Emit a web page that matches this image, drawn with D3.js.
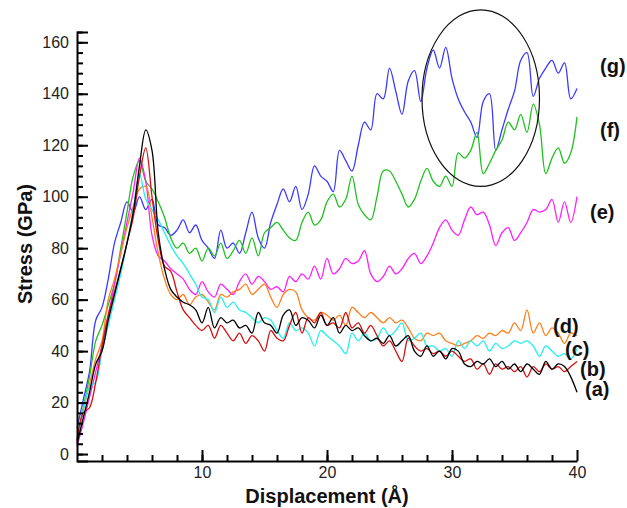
<!DOCTYPE html>
<html>
<head>
<meta charset="utf-8">
<script src="https://cdn.jsdelivr.net/npm/d3@7"></script>
<style>
  body { margin: 0; background: #fff; }
  text { font-family: "Liberation Sans", Arial, sans-serif; }
</style>
</head>
<body>
<script>
// displacement grid (Å), one value every 0.5
var disp = d3.range(0, 40.5, 0.5);

// stress values (GPa)
var seriesA = [4,14,24,35,40,52,62,72,82,94,
  112,126,118,86,72,64,61,59,58,56,
  51,57,49,53,51,52,49,50,47,55,
  51,50,47,54,56,50,53,52,49,54,
  50,53,47,50,48,49,46,44,45,43,
  46,42,44,46,40,38,42,38,40,37,
  41,40,35,34,36,35,37,34,36,33,
  35,32,35,33,31,36,33,35,34,30, 24];
var seriesB = [5,16,18,28,42,54,63,72,82,92,
  108,119,100,83,73,71,63,56,53,50,
  48,50,45,50,47,44,47,43,46,44,
  40,48,45,44,50,55,47,53,51,55,
  50,51,49,55,49,51,47,50,46,42,
  44,40,36,45,42,40,41,39,40,38,
  40,38,36,37,33,35,31,35,33,34,
  32,34,30,34,32,35,33,34,32,34, 36];
var seriesC = [6,17,26,28,40,50,60,70,82,95,
  109,99,95,91,86,81,77,74,70,66,
  61,60,55,61,57,59,56,55,53,51,
  53,52,48,45,51,48,49,47,42,48,
  46,44,42,39,47,44,47,44,45,49,
  46,48,51,44,45,47,42,42,40,41,
  38,44,41,44,42,44,40,43,41,42,
  44,43,44,42,38,42,40,38,39,37, 41];
var seriesD = [6,17,27,37,44,60,68,78,88,96,
  103,104,92,78,68,62,60,62,58,61,
  62,59,56,62,61,63,64,66,62,64,
  66,61,57,62,64,63,56,53,52,55,
  54,52,54,50,57,55,53,55,53,51,
  53,51,52,49,45,44,47,46,47,44,
  43,42,43,44,46,45,47,46,48,47,
  51,48,56,47,51,46,49,47,43,47, 46];
var seriesE = [3,12,22,32,42,54,66,78,90,102,
  115,106,85,77,75,72,70,68,64,62,
  67,63,61,66,64,62,67,70,66,69,
  67,64,65,63,69,67,70,68,73,68,
  76,70,72,76,74,75,79,70,67,69,
  73,70,72,76,78,74,77,82,88,91,
  87,85,91,96,93,94,89,81,86,88,
  83,86,90,95,94,95,99,90,98,90, 100];
var seriesF = [5,18,30,44,50,58,66,80,94,108,
  114,106,103,98,92,84,80,82,78,80,
  75,80,77,82,76,79,83,78,84,77,
  86,88,90,87,84,83,90,94,89,91,
  98,101,96,99,108,97,93,91,100,110,
  110,106,101,96,99,106,111,106,104,108,
  104,117,115,118,125,109,113,118,122,129,
  126,132,125,136,128,109,115,119,113,117, 131];
var seriesG = [10,21,32,52,57,68,82,90,98,94,
  100,95,99,89,88,85,87,91,86,89,
  83,80,76,87,80,82,78,86,94,84,
  80,90,97,103,98,104,95,101,112,108,
  106,102,118,114,110,120,129,126,140,138,
  150,141,132,145,149,137,150,157,150,158,
  146,138,133,129,123,137,140,118,126,134,
  141,153,156,139,146,150,153,148,152,138, 142];

var seriesNames = ["(g)", "(f)", "(e)", "(d)", "(c)", "(b)", "(a)"];
var seriesList = [seriesG, seriesF, seriesE, seriesD, seriesC, seriesB, seriesA];
var colors = ["#3a3aff", "#1ec21e", "#ff1eff", "#ff7f1a", "#22f0f0", "#d41010", "#000000"];

var xMajor = [10, 20, 30, 40];
var yMajor = [0, 20, 40, 60, 80, 100, 120, 140, 160];

var w = 627, h = 508;

var svg = d3.select("body").append("svg")
  .attr("width", w)
  .attr("height", h);

var x = d3.scaleLinear().domain([0, 40]).range([77, 577]);
var y = d3.scaleLinear().domain([-2.7, 164]).range([461, 32]);

// curves
var line = d3.line()
  .x(function(d, i) { return x(disp[i]); })
  .y(function(d) { return y(d); })
  .curve(d3.curveCatmullRom.alpha(0.5));

svg.selectAll("path.curve")
  .data(seriesList)
  .enter()
  .append("path")
  .attr("class", "curve")
  .attr("d", line)
  .attr("fill", "none")
  .attr("stroke", function(d, i) { return colors[i]; })
  .attr("stroke-width", 1.3)
  .attr("stroke-linejoin", "round");

// circled region
svg.append("ellipse")
  .attr("cx", x(32.3))
  .attr("cy", y(138.3))
  .attr("rx", x(37) - x(32.3))
  .attr("ry", y(104) - y(138.3))
  .attr("fill", "none")
  .attr("stroke", "#111")
  .attr("stroke-width", 1.2);

// y axis: minor ticks then major ticks with labels
svg.append("g")
  .attr("transform", "translate(" + x(0) + ",0)")
  .call(d3.axisLeft(y).tickValues(d3.range(0, 165, 4)).tickSizeInner(-6).tickSizeOuter(-11).tickFormat(""))
  .call(function(g) { g.selectAll("line, path").attr("stroke-width", 2); });

svg.append("g")
  .attr("transform", "translate(" + x(0) + ",0)")
  .call(d3.axisLeft(y).tickValues(yMajor).tickSizeInner(-11).tickSizeOuter(0).tickPadding(8))
  .call(function(g) {
    g.select(".domain").remove();
    g.selectAll("line").attr("stroke-width", 2);
    g.selectAll("text").attr("font-size", 16).attr("fill", "#222")
      .attr("font-family", "Liberation Sans, Arial, sans-serif");
  });

// x axis
svg.append("g")
  .attr("transform", "translate(0," + y(-2.7) + ")")
  .call(d3.axisBottom(x).tickValues(d3.range(2, 40, 2)).tickSizeInner(-6).tickSizeOuter(0).tickFormat(""))
  .call(function(g) { g.selectAll("line, path").attr("stroke-width", 2); });

svg.append("g")
  .attr("transform", "translate(0," + y(-2.7) + ")")
  .call(d3.axisBottom(x).tickValues(xMajor).tickSizeInner(-11).tickSizeOuter(0).tickPadding(6))
  .call(function(g) {
    g.select(".domain").remove();
    g.selectAll("line").attr("stroke-width", 2);
    g.selectAll("text").attr("font-size", 16).attr("fill", "#222")
      .attr("font-family", "Liberation Sans, Arial, sans-serif");
  });

// axis titles
svg.append("text")
  .attr("x", 327)
  .attr("y", 503)
  .attr("text-anchor", "middle")
  .attr("font-size", 20)
  .attr("font-weight", "bold")
  .attr("fill", "#111")
  .text("Displacement (Å)");

svg.append("text")
  .attr("transform", "translate(32,244) rotate(-90)")
  .attr("text-anchor", "middle")
  .attr("font-size", 20)
  .attr("font-weight", "bold")
  .attr("fill", "#111")
  .text("Stress (GPa)");

// series labels
var labelPos = [[600, 73], [600, 137], [590, 219], [553, 333], [565, 356], [580, 376], [585, 396]];
svg.selectAll("text.lab")
  .data(seriesNames)
  .enter()
  .append("text")
  .attr("class", "lab")
  .attr("x", function(d, i) { return labelPos[i][0]; })
  .attr("y", function(d, i) { return labelPos[i][1]; })
  .attr("font-size", 20)
  .attr("font-weight", "bold")
  .attr("fill", "#111")
  .text(function(d) { return d; });
</script>
</body>
</html>
